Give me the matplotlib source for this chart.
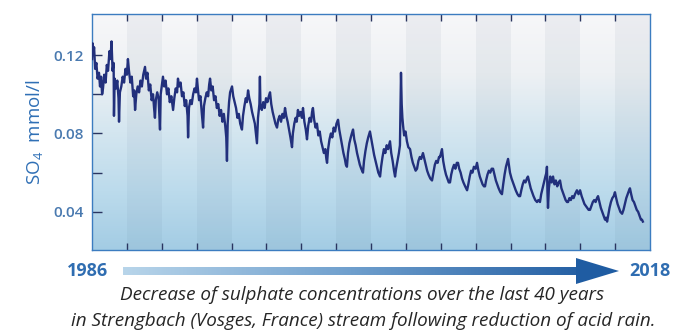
import numpy as np
import matplotlib
matplotlib.use("Agg")
import matplotlib.pyplot as plt
from matplotlib.colors import LinearSegmentedColormap
from matplotlib.patches import Polygon

plt.rcParams['font.family'] = ['Open Sans', 'DejaVu Sans']
plt.rcParams['mathtext.default'] = 'regular'

# SO4 concentration (mmol/l) in the Strengbach stream
years = [
    1986.00, 1986.04, 1986.08, 1986.12, 1986.18, 1986.25, 1986.32, 1986.40, 1986.46, 1986.52,
    1986.58, 1986.63, 1986.70, 1986.78, 1986.85, 1986.92, 1987.00, 1987.06, 1987.12, 1987.18,
    1987.24, 1987.26, 1987.30, 1987.38, 1987.45, 1987.52, 1987.55, 1987.60, 1987.68, 1987.76,
    1987.84, 1987.92, 1988.00, 1988.06, 1988.12, 1988.20, 1988.28, 1988.36, 1988.42, 1988.47,
    1988.54, 1988.62, 1988.70, 1988.78, 1988.86, 1988.94, 1989.04, 1989.10, 1989.18, 1989.26,
    1989.34, 1989.42, 1989.50, 1989.56, 1989.61, 1989.66, 1989.74, 1989.82, 1989.90, 1989.94,
    1990.00, 1990.07, 1990.14, 1990.22, 1990.30, 1990.38, 1990.46, 1990.55, 1990.65, 1990.72,
    1990.80, 1990.88, 1990.93, 1991.00, 1991.08, 1991.16, 1991.24, 1991.32, 1991.40, 1991.48,
    1991.51, 1991.56, 1991.64, 1991.72, 1991.80, 1991.88, 1991.96, 1992.02, 1992.08, 1992.14,
    1992.22, 1992.30, 1992.37, 1992.42, 1992.50, 1992.58, 1992.66, 1992.72, 1992.77, 1992.84,
    1992.92, 1993.00, 1993.08, 1993.16, 1993.24, 1993.32, 1993.40, 1993.48, 1993.56, 1993.64,
    1993.70, 1993.74, 1993.78, 1993.86, 1993.92, 1994.03, 1994.10, 1994.18, 1994.26, 1994.34,
    1994.42, 1994.50, 1994.60, 1994.66, 1994.74, 1994.82, 1994.88, 1994.95, 1995.02, 1995.10,
    1995.18, 1995.26, 1995.34, 1995.40, 1995.46, 1995.52, 1995.60, 1995.63, 1995.66, 1995.74,
    1995.82, 1995.90, 1995.98, 1996.06, 1996.14, 1996.21, 1996.28, 1996.36, 1996.44, 1996.52,
    1996.61, 1996.68, 1996.76, 1996.84, 1996.92, 1997.00, 1997.07, 1997.14, 1997.22, 1997.30,
    1997.38, 1997.47, 1997.52, 1997.60, 1997.68, 1997.74, 1997.81, 1997.88, 1997.96, 1998.04,
    1998.10, 1998.18, 1998.26, 1998.33, 1998.40, 1998.48, 1998.56, 1998.62, 1998.67, 1998.74,
    1998.82, 1998.90, 1998.98, 1999.06, 1999.14, 1999.22, 1999.30, 1999.38, 1999.44, 1999.48,
    1999.54, 1999.62, 1999.70, 1999.78, 1999.86, 1999.94, 2000.02, 2000.11, 2000.18, 2000.26,
    2000.34, 2000.42, 2000.50, 2000.56, 2000.62, 2000.68, 2000.76, 2000.84, 2000.90, 2000.97,
    2001.04, 2001.12, 2001.20, 2001.28, 2001.36, 2001.44, 2001.54, 2001.60, 2001.68, 2001.76,
    2001.84, 2001.94, 2002.02, 2002.10, 2002.18, 2002.26, 2002.34, 2002.42, 2002.52, 2002.58,
    2002.66, 2002.74, 2002.82, 2002.90, 2002.98, 2003.09, 2003.16, 2003.24, 2003.32, 2003.38,
    2003.44, 2003.52, 2003.60, 2003.66, 2003.72, 2003.76, 2003.80, 2003.84, 2003.90, 2003.98,
    2004.06, 2004.14, 2004.24, 2004.32, 2004.40, 2004.48, 2004.56, 2004.64, 2004.72, 2004.80,
    2004.88, 2004.98, 2005.06, 2005.14, 2005.22, 2005.30, 2005.40, 2005.50, 2005.58, 2005.66,
    2005.74, 2005.82, 2005.90, 2005.96, 2006.07, 2006.14, 2006.22, 2006.30, 2006.38, 2006.46,
    2006.53, 2006.60, 2006.68, 2006.76, 2006.84, 2006.92, 2006.99, 2007.06, 2007.14, 2007.22,
    2007.30, 2007.40, 2007.51, 2007.58, 2007.66, 2007.74, 2007.82, 2007.90, 2008.00, 2008.08,
    2008.16, 2008.24, 2008.32, 2008.40, 2008.48, 2008.54, 2008.60, 2008.68, 2008.76, 2008.84,
    2008.92, 2009.00, 2009.08, 2009.16, 2009.24, 2009.32, 2009.42, 2009.51, 2009.58, 2009.66,
    2009.74, 2009.80, 2009.86, 2009.92, 2009.97, 2010.06, 2010.14, 2010.22, 2010.30, 2010.40,
    2010.48, 2010.55, 2010.62, 2010.70, 2010.78, 2010.86, 2010.94, 2011.00, 2011.08, 2011.16,
    2011.24, 2011.32, 2011.42, 2011.52, 2011.60, 2011.69, 2011.76, 2011.84, 2011.92, 2012.00,
    2012.06, 2012.09, 2012.12, 2012.15, 2012.20, 2012.28, 2012.36, 2012.44, 2012.52, 2012.60,
    2012.68, 2012.76, 2012.84, 2012.92, 2013.00, 2013.08, 2013.16, 2013.24, 2013.30, 2013.38,
    2013.46, 2013.54, 2013.62, 2013.70, 2013.81, 2013.90, 2013.99, 2014.08, 2014.16, 2014.24,
    2014.32, 2014.40, 2014.48, 2014.56, 2014.64, 2014.72, 2014.80, 2014.88, 2014.96, 2015.02,
    2015.10, 2015.18, 2015.26, 2015.34, 2015.42, 2015.48, 2015.54, 2015.60, 2015.68, 2015.76,
    2015.84, 2015.92, 2015.99, 2016.06, 2016.14, 2016.22, 2016.30, 2016.40, 2016.48, 2016.56,
    2016.64, 2016.72, 2016.80, 2016.85, 2016.92, 2017.00, 2017.08, 2017.16, 2017.24, 2017.32,
    2017.40, 2017.48, 2017.54, 2017.59,
]
so4 = [
    0.118, 0.126, 0.121, 0.124, 0.113, 0.116, 0.108, 0.111, 0.104, 0.109,
    0.100, 0.103, 0.110, 0.106, 0.115, 0.112, 0.122, 0.118, 0.127, 0.112,
    0.116, 0.089, 0.108, 0.103, 0.107, 0.098, 0.086, 0.101, 0.104, 0.109,
    0.106, 0.113, 0.110, 0.118, 0.112, 0.106, 0.109, 0.099, 0.102, 0.092,
    0.100, 0.104, 0.101, 0.107, 0.104, 0.110, 0.114, 0.108, 0.111, 0.102,
    0.105, 0.097, 0.100, 0.093, 0.088, 0.097, 0.101, 0.098, 0.082, 0.100,
    0.104, 0.109, 0.104, 0.107, 0.100, 0.103, 0.096, 0.099, 0.092, 0.098,
    0.103, 0.101, 0.108, 0.104, 0.106, 0.099, 0.101, 0.094, 0.097, 0.089,
    0.078, 0.093, 0.097, 0.095, 0.100, 0.103, 0.101, 0.108, 0.102, 0.097,
    0.099, 0.090, 0.083, 0.094, 0.098, 0.101, 0.099, 0.105, 0.108, 0.102,
    0.104, 0.097, 0.099, 0.093, 0.095, 0.089, 0.092, 0.086, 0.090, 0.084,
    0.078, 0.066, 0.085, 0.096, 0.101, 0.104, 0.099, 0.096, 0.093, 0.088,
    0.090, 0.085, 0.082, 0.089, 0.094, 0.098, 0.096, 0.102, 0.098, 0.095,
    0.091, 0.088, 0.085, 0.080, 0.075, 0.088, 0.095, 0.109, 0.094, 0.092,
    0.096, 0.093, 0.098, 0.096, 0.099, 0.101, 0.095, 0.091, 0.088, 0.085,
    0.083, 0.087, 0.089, 0.086, 0.090, 0.088, 0.093, 0.089, 0.086, 0.082,
    0.078, 0.073, 0.080, 0.085, 0.088, 0.086, 0.092, 0.089, 0.091, 0.088,
    0.093, 0.086, 0.082, 0.077, 0.084, 0.088, 0.086, 0.091, 0.093, 0.087,
    0.083, 0.085, 0.079, 0.081, 0.076, 0.073, 0.070, 0.072, 0.067, 0.065,
    0.072, 0.077, 0.080, 0.078, 0.083, 0.081, 0.085, 0.087, 0.082, 0.078,
    0.074, 0.070, 0.067, 0.064, 0.063, 0.070, 0.075, 0.078, 0.080, 0.082,
    0.077, 0.074, 0.070, 0.067, 0.064, 0.062, 0.060, 0.066, 0.071, 0.075,
    0.078, 0.081, 0.077, 0.073, 0.069, 0.066, 0.063, 0.060, 0.058, 0.063,
    0.068, 0.072, 0.070, 0.074, 0.072, 0.076, 0.070, 0.066, 0.061, 0.058,
    0.062, 0.066, 0.070, 0.074, 0.111, 0.095, 0.088, 0.084, 0.079, 0.081,
    0.076, 0.073, 0.072, 0.068, 0.065, 0.063, 0.061, 0.062, 0.066, 0.068,
    0.067, 0.070, 0.067, 0.064, 0.061, 0.059, 0.057, 0.056, 0.060, 0.064,
    0.066, 0.065, 0.068, 0.068, 0.072, 0.066, 0.062, 0.059, 0.057, 0.055,
    0.055, 0.059, 0.062, 0.064, 0.062, 0.065, 0.065, 0.062, 0.060, 0.057,
    0.055, 0.053, 0.051, 0.054, 0.058, 0.061, 0.060, 0.063, 0.062, 0.065,
    0.061, 0.058, 0.056, 0.054, 0.053, 0.053, 0.056, 0.059, 0.061, 0.060,
    0.062, 0.062, 0.059, 0.056, 0.054, 0.052, 0.050, 0.049, 0.054, 0.059,
    0.063, 0.065, 0.067, 0.063, 0.060, 0.057, 0.055, 0.053, 0.051, 0.049,
    0.048, 0.048, 0.051, 0.054, 0.056, 0.055, 0.057, 0.058, 0.055, 0.052,
    0.050, 0.048, 0.046, 0.045, 0.046, 0.045, 0.049, 0.052, 0.055, 0.058,
    0.060, 0.063, 0.050, 0.042, 0.052, 0.058, 0.055, 0.058, 0.054, 0.056,
    0.053, 0.055, 0.056, 0.052, 0.050, 0.048, 0.046, 0.045, 0.045, 0.047,
    0.046, 0.048, 0.047, 0.049, 0.051, 0.049, 0.051, 0.048, 0.046, 0.044,
    0.043, 0.042, 0.041, 0.041, 0.043, 0.045, 0.046, 0.045, 0.047, 0.048,
    0.045, 0.042, 0.040, 0.038, 0.036, 0.037, 0.035, 0.038, 0.042, 0.045,
    0.047, 0.048, 0.050, 0.047, 0.044, 0.042, 0.040, 0.039, 0.041, 0.044,
    0.047, 0.049, 0.051, 0.052, 0.049, 0.046, 0.045, 0.043, 0.041, 0.040,
    0.038, 0.036, 0.036, 0.035,
]

band_edges = list(range(1986, 2019, 2))
y_ticks = [0.04, 0.06, 0.08, 0.10, 0.12]
y_labels = ["0.04", "", "0.08", "", "0.12"]
start_year = "1986"
end_year = "2018"
caption = ["Decrease of sulphate concentrations over the last 40 years",
           "in Strengbach (Vosges, France) stream following reduction of acid rain."]

fig = plt.figure(figsize=(6.9, 3.33), dpi=100)
ax = fig.add_axes([92 / 690, 1 - 250 / 333, 558 / 690, 236 / 333])
ax.set_xlim(1986, 2018)
ax.set_ylim(0.0205, 0.141)

# vertical background gradient: near white at top, light blue at bottom
bg = LinearSegmentedColormap.from_list(
    "bg", ["#f7f7f9", "#eef1f4", "#d4e6f0", "#bcdbec", "#a3cce4"])
grad = np.linspace(0, 1, 256).reshape(-1, 1)
ax.imshow(grad, cmap=bg, aspect="auto", extent=(1986, 2018, 0.0205, 0.141),
          origin="upper", zorder=0)

# alternating 2-year bands
for i in range(len(band_edges) - 1):
    if i % 2 == 1:
        ax.axvspan(band_edges[i], band_edges[i + 1], color="#3f5a78",
                   alpha=0.06, lw=0, zorder=1)

ax.plot(years, so4, color="#22307c", lw=1.7, zorder=3)

for s in ax.spines.values():
    s.set_color("#3c7cc0")
    s.set_linewidth(1.0)

ax.set_xticks(band_edges[1:-1])
ax.tick_params(axis="x", which="both", direction="in", length=5, width=1,
               color="#2a3560", top=True, bottom=True,
               labelbottom=False, labeltop=False)
ax.set_yticks(y_ticks)
ax.set_yticklabels(y_labels)
ax.tick_params(axis="y", direction="in", length=7, width=1, color="#2a3560",
               labelsize=11, labelcolor="#4a7ab0", pad=6)
for lab in ax.get_yticklabels():
    lab.set_fontweight("semibold")
ax.set_ylabel("SO$_4$  mmol/l", color="#2f6fb5", fontsize=13.5, labelpad=6)

# bottom time arrow and caption, drawn on an overlay in pixel units
ov = fig.add_axes([0, 0, 1, 1], zorder=-1)
ov.set_xlim(0, 690)
ov.set_ylim(333, 0)
ov.axis("off")
arrow_cmap = LinearSegmentedColormap.from_list("arr", ["#b8d5ea", "#6f9fcd", "#2560a4"])
ov.imshow(np.linspace(0, 1, 256).reshape(1, -1), cmap=arrow_cmap, aspect="auto",
          extent=(123, 580, 275, 267), zorder=1)
ov.add_patch(Polygon([(576, 258), (619, 271), (576, 284)], closed=True,
                     color="#1f5ca2", lw=0, zorder=2))
ov.text(88, 271, start_year, ha="center", va="center", fontsize=13,
        fontweight="bold", color="#2f6db1")
ov.text(650, 271, end_year, ha="center", va="center", fontsize=13,
        fontweight="bold", color="#2f6db1")
ov.text(362, 295, caption[0], ha="center", va="center", fontsize=13.6,
        style="italic", color="#262626")
ov.text(363, 321, caption[1], ha="center", va="center", fontsize=13.6,
        style="italic", color="#262626")

fig.savefig("out.png", dpi=100)
